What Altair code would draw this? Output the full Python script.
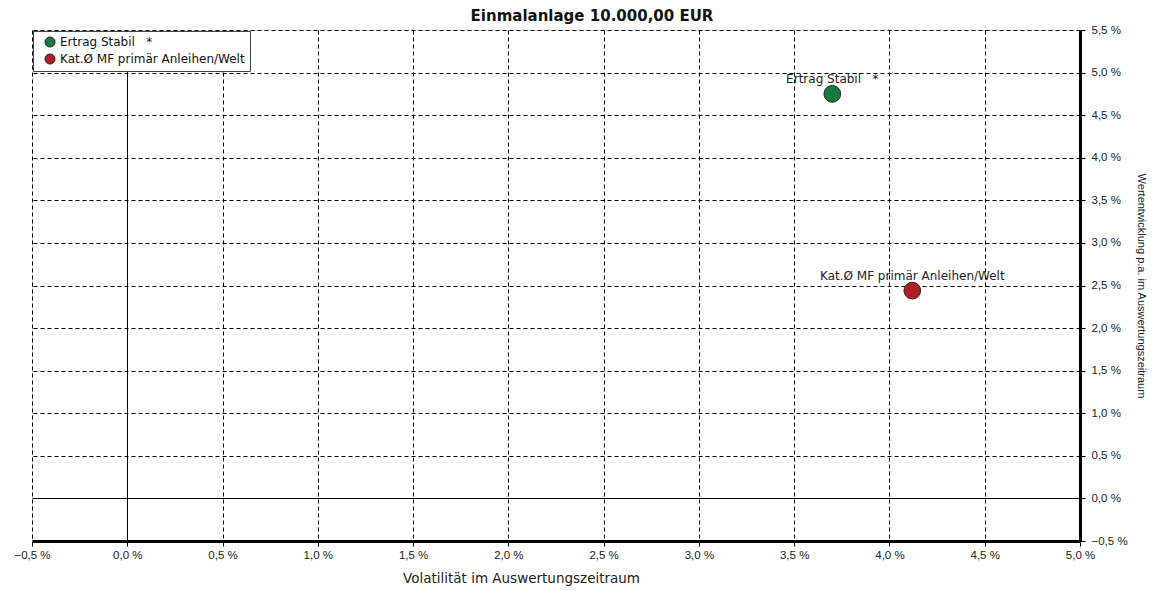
import altair as alt
import pandas as pd

names = ["Ertrag Stabil\u00a0\u00a0\u00a0*", "Kat.Ø MF primär Anleihen/Welt"]
volatility = [3.70, 4.12]
returns = [4.75, 2.44]
colors = ["#187a3c", "#b01e23"]
x_ticks = [-0.5, 0.0, 0.5, 1.0, 1.5, 2.0, 2.5, 3.0, 3.5, 4.0, 4.5, 5.0]
y_ticks = [-0.5, 0.0, 0.5, 1.0, 1.5, 2.0, 2.5, 3.0, 3.5, 4.0, 4.5, 5.0, 5.5]

df = pd.DataFrame({"name": names, "vol": volatility, "ret": returns})

FONT = "Liberation Sans"
WIDE = "DejaVu Sans"
label_expr = "replace(format(datum.value, '.1f'), '.', ',') + ' %'"
grid_dash = {"condition": {"test": "datum.value === 0", "value": []}, "value": [4, 3]}

x = alt.X(
    "vol:Q",
    scale=alt.Scale(domain=[-0.5, 5.0], nice=False, zero=False),
    axis=alt.Axis(
        orient="bottom", values=x_ticks, labelExpr=label_expr, labelFlush=False,
        title="Volatilität im Auswertungszeitraum", titleX=489,
        titleFont=WIDE, titleFontSize=13.5, titleFontWeight="normal", titlePadding=11,
        titleColor="#222",
        labelFont=FONT, labelFontSize=11.5, labelColor="#222", labelPadding=3,
        domainColor="black", domainWidth=3, tickColor="black", tickSize=5,
        grid=True, gridColor="black", gridOpacity=1, gridWidth=1, gridDash=grid_dash,
    ),
)
y = alt.Y(
    "ret:Q",
    scale=alt.Scale(domain=[-0.5, 5.5], nice=False, zero=False),
    axis=alt.Axis(
        orient="right", values=y_ticks, labelExpr=label_expr, labelFlush=False,
        title="Wertentwicklung p.a.  im Auswertungszeitraum", titleAngle=90,
        titleFont=FONT, titleFontSize=11, titleFontWeight="normal", titleColor="#222",
        titlePadding=8, titleBaseline="bottom",
        labelFont=FONT, labelFontSize=11.5, labelColor="#222", labelPadding=6,
        domainColor="black", domainWidth=3, tickColor="black", tickSize=5,
        grid=True, gridColor="black", gridOpacity=1, gridWidth=1, gridDash=grid_dash,
    ),
)

color = alt.Color(
    "name:N",
    scale=alt.Scale(domain=names, range=colors),
    legend=alt.Legend(
        title=None, orient="top-left", offset=1, padding=5, symbolOffset=6,
        strokeColor="#444", fillColor="white", labelLimit=400,
        labelFont=WIDE, labelFontSize=12, labelColor="#111",
        symbolType="circle", symbolSize=100, symbolStrokeColor="#222", symbolStrokeWidth=1,
        rowPadding=3,
    ),
)

points = alt.Chart(df).mark_point(
    filled=True, size=280, stroke="#222", strokeWidth=1, opacity=1
).encode(x=x, y=y, color=color)

labels = alt.Chart(df).mark_text(
    dy=-15, font=WIDE, fontSize=12, color="#222"
).encode(x="vol:Q", y="ret:Q", text="name:N")

chart = (
    alt.layer(points, labels)
    .properties(
        width=1048, height=511,
        title=alt.TitleParams(
            "Einmalanlage 10.000,00 EUR", font=WIDE, fontSize=15, fontWeight="bold",
            color="#111", anchor="middle", dx=36, offset=0,
        ),
        autosize=alt.AutoSizeParams(type="none"),
        padding={"left": 24, "top": 22, "right": 71, "bottom": 45},
    )
    .configure_view(stroke="black", strokeWidth=1)
    .configure(background="white")
)

chart.save("out.html", embed_options={"renderer": "svg", "actions": False})
